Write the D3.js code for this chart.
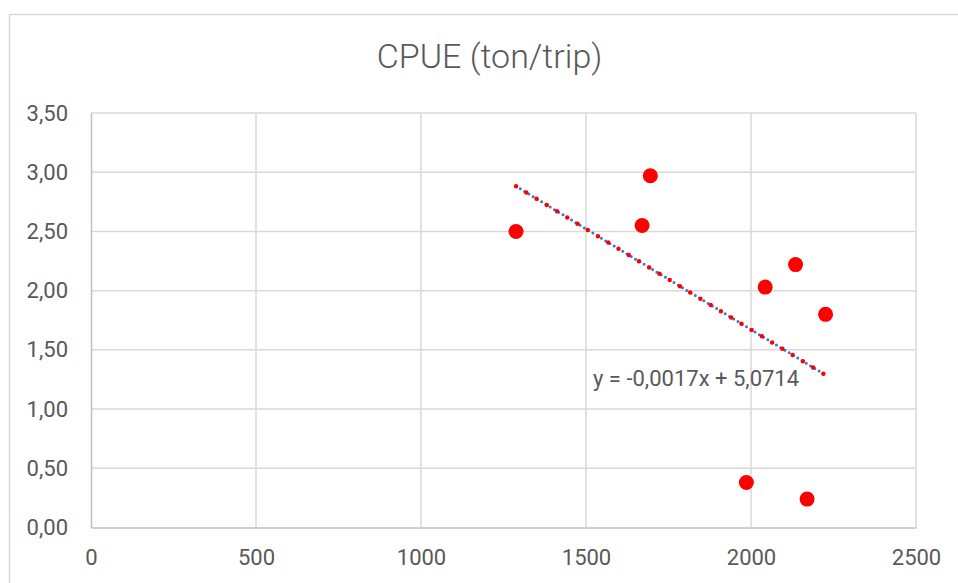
<!DOCTYPE html>
<html>
<head>
<meta charset="utf-8">
<script src="https://cdn.jsdelivr.net/npm/d3@7"></script>
<style>
  html, body { margin: 0; padding: 0; background: #fff; }
  svg { display: block; font-family: Roboto, "Noto Sans", sans-serif; }
</style>
</head>
<body>
<svg id="chart" width="958" height="583"></svg>
<script>
// Effort (trips) vs CPUE (ton/trip)
const effort = [1288, 1670, 1695, 2043, 2135, 2226, 1986, 2170];
const cpue   = [2.50, 2.55, 2.97, 2.03, 2.22, 1.80, 0.38, 0.24];

// Linear trendline as reported on the chart
const slope = -0.0017;
const intercept = 5.0714;
const equationText = "y = -0,0017x + 5,0714";

const xTicks = [0, 500, 1000, 1500, 2000, 2500];
const yTicks = [0, 0.5, 1, 1.5, 2, 2.5, 3, 3.5];
const title = "CPUE (ton/trip)";

const svg = d3.select("#chart");

const x = d3.scaleLinear().domain([0, 2500]).range([91, 916]);
const y = d3.scaleLinear().domain([0, 3.5]).range([527.5, 113]);

const fmtY = v => d3.format(".2f")(v).replace(".", ",");

// chart frame
svg.append("rect")
  .attr("x", 9.5).attr("y", 14.5)
  .attr("width", 1000).attr("height", 1000)
  .attr("fill", "#fff").attr("stroke", "#d9d9d9").attr("stroke-width", 1.5);

// title
svg.append("text")
  .attr("x", 489.5).attr("y", 68)
  .attr("text-anchor", "middle")
  .attr("fill", "#595959")
  .attr("font-size", 34)
  .attr("font-weight", 300)
  .text(title);

// gridlines
const grid = svg.append("g");
grid.selectAll("line.h").data(yTicks.filter(d => d > 0)).enter().append("line")
  .attr("x1", x(0)).attr("x2", x(2500))
  .attr("y1", d => y(d)).attr("y2", d => y(d))
  .attr("stroke", "#d9d9d9").attr("stroke-width", 1.5);
grid.selectAll("line.v").data(xTicks.filter(d => d > 0)).enter().append("line")
  .attr("x1", d => x(d)).attr("x2", d => x(d))
  .attr("y1", y(0)).attr("y2", y(3.5))
  .attr("stroke", "#d9d9d9").attr("stroke-width", 1.5);

// axes
const xAxis = svg.append("g")
  .attr("transform", `translate(0,${y(0)})`)
  .call(d3.axisBottom(x).tickValues(xTicks).tickSize(0).tickPadding(22).tickFormat(d3.format("d")));
const yAxis = svg.append("g")
  .attr("transform", `translate(${x(0)},0)`)
  .call(d3.axisLeft(y).tickValues(yTicks).tickSize(0).tickPadding(23).tickFormat(fmtY));
[xAxis, yAxis].forEach(g => {
  g.select(".domain").attr("stroke", "#bfbfbf").attr("stroke-width", 1.5);
  g.selectAll("text").attr("fill", "#595959").attr("font-size", 22).attr("font-family", "Roboto, 'Noto Sans', sans-serif");
});

// trendline over the data's x range
const xMin = d3.min(effort), xMax = d3.max(effort);
const trend = [xMin, xMax].map(v => [x(v), y(slope * v + intercept)]);
const line = d3.line();
svg.append("path")
  .attr("d", line(trend))
  .attr("fill", "none")
  .attr("stroke", "#4472c4")
  .attr("stroke-width", 3)
  .attr("stroke-linecap", "round")
  .attr("stroke-dasharray", "0 5");
svg.append("path")
  .attr("d", line(trend))
  .attr("fill", "none")
  .attr("stroke", "#ff0000")
  .attr("stroke-width", 4.5)
  .attr("stroke-linecap", "round")
  .attr("stroke-dasharray", "0 12");

// data points
svg.append("g").selectAll("circle")
  .data(effort.map((e, i) => [e, cpue[i]]))
  .enter().append("circle")
  .attr("cx", d => x(d[0]))
  .attr("cy", d => y(d[1]))
  .attr("r", 7.5)
  .attr("fill", "#ff0000");

// trendline equation
svg.append("text")
  .attr("x", 593).attr("y", 386)
  .attr("fill", "#595959")
  .attr("font-size", 22)
  .text(equationText);
</script>
</body>
</html>
